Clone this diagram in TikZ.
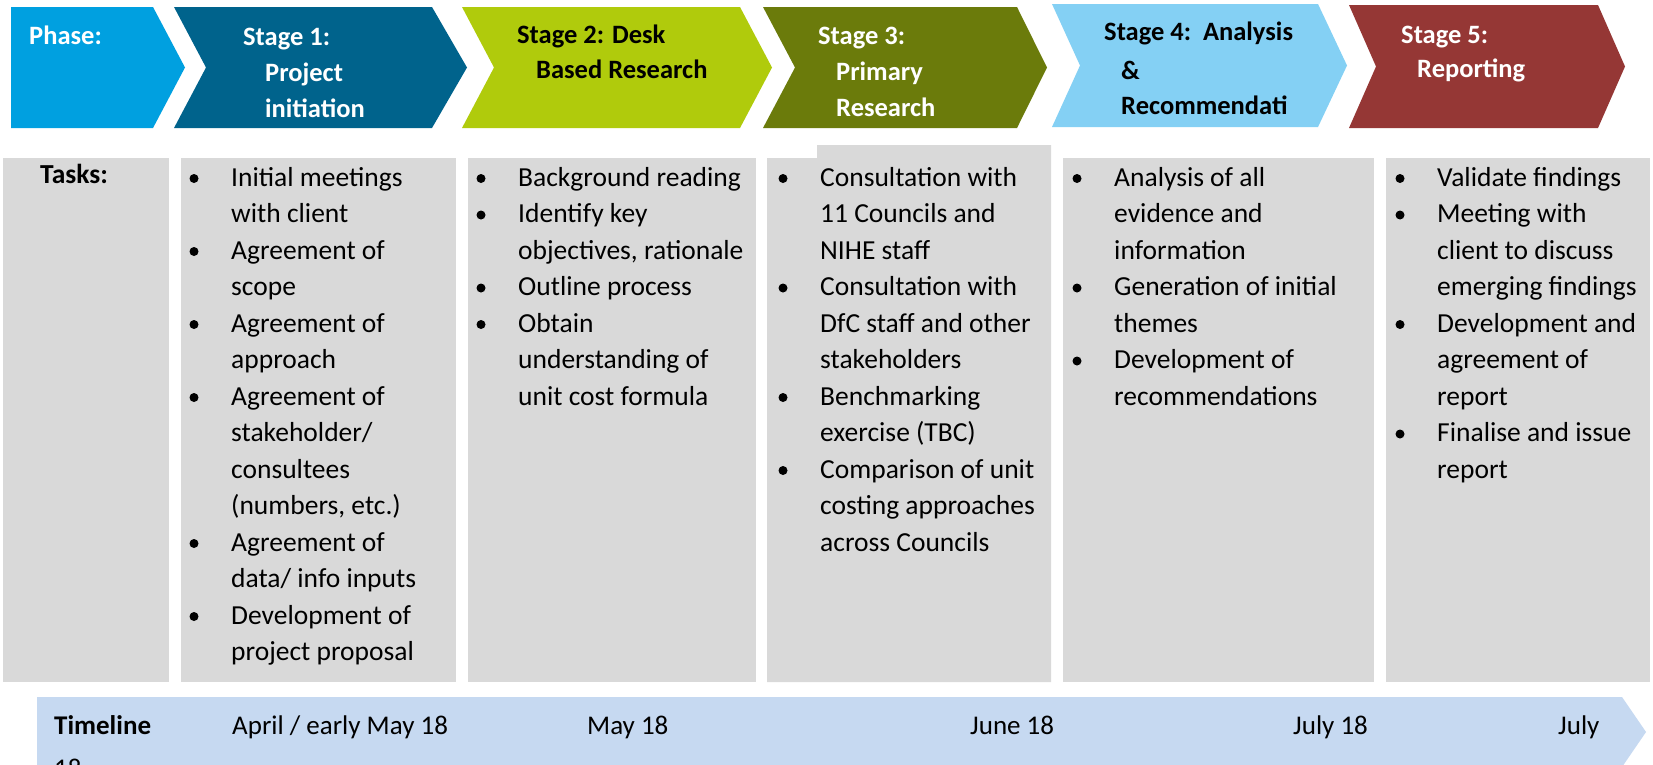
\documentclass[tikz,border=0pt]{standalone}
\usepackage{fontspec}
\setmainfont{Carlito}
\definecolor{cPhase}{HTML}{00A0E0}
\definecolor{cSa}{HTML}{00638C}
\definecolor{cSb}{HTML}{B0CB0C}
\definecolor{cSc}{HTML}{6B7B0B}
\definecolor{cSd}{HTML}{84D0F4}
\definecolor{cSe}{HTML}{953735}
\definecolor{cBox}{HTML}{D9D9D9}
\definecolor{cTime}{HTML}{C6D9F1}
\newcommand\hdrfont{\fontsize{26.5}{30}\selectfont\bfseries}
\newcommand\taskfont{\fontsize{27.5}{33}\selectfont}
\newcommand\datefont{\fontsize{27}{33}\selectfont}
\begin{document}
\begin{tikzpicture}[x=1pt,y=-1pt,
  hdr/.style={anchor=base west, inner sep=0pt, font=\hdrfont},
  task/.style={anchor=base west, inner sep=0pt, font=\taskfont},
  datelbl/.style={anchor=base west, inner sep=0pt, font=\datefont},
  bul/.style={circle, fill=black, inner sep=0pt, minimum size=9pt}]
\clip (0,0) rectangle (1653,764);
\fill[white] (0,0) rectangle (1653,764);
% chevrons
\fill[cPhase] (11,7) -- (153,7) -- (185,67.5) -- (153,128) -- (11,128) -- cycle;
\fill[cSa] (174,7) -- (432,7) -- (467,67.5) -- (432,128) -- (174,128) -- (206,67.5) -- cycle;
\fill[cSb] (462,7) -- (740,7) -- (772,67.5) -- (740,128) -- (462,128) -- (494,67.5) -- cycle;
\fill[cSc] (763,7) -- (1017,7) -- (1047,67.5) -- (1017,128) -- (763,128) -- (795,67.5) -- cycle;
\fill[cSd] (1052,4) -- (1318,4) -- (1347,65.5) -- (1318,127) -- (1052,127) -- (1080,65.5) -- cycle;
\fill[cSe] (1349,5) -- (1598,5) -- (1625,66.5) -- (1598,128) -- (1349,128) -- (1376,66.5) -- cycle;
% header texts
\node[hdr, text=white] (ph) at (29,44) {Phase:};
\node[hdr, text=white] (s1a) at (243,45) {Stage 1:};
\node[hdr, text=white] (s1b) at (265,81) {Project};
\node[hdr, text=white] (s1c) at (265,117) {initiation};
\node[hdr, text=black] (s2a) at (517,43.5) {Stage 2: Desk};
\node[hdr, text=black] (s2b) at (536,78) {Based Research};
\node[hdr, text=white] (s3a) at (818,44) {Stage 3:};
\node[hdr, text=white] (s3b) at (836,80) {Primary};
\node[hdr, text=white] (s3c) at (836,116) {Research};
\node[hdr, text=black] (s4a) at (1104,40) {Stage 4:\ \ Analysis};
\node[hdr, text=black] (s4b) at (1121,79) {\&};
\node[hdr, text=black] (s4c) at (1121,114) {Recommendati};
\node[hdr, text=white] (s5a) at (1401,43) {Stage 5:};
\node[hdr, text=white] (s5b) at (1417,77) {Reporting};
% task boxes
\fill[cBox] (3,158) rectangle (169,682);
\fill[cBox] (181,158) rectangle (456,682);
\fill[cBox] (468,158) rectangle (756,682);
\fill[cBox] (767,158) -- (817,158) -- (817,145) -- (1051,145) -- (1051,682) -- (767,682) -- cycle;
\fill[cBox] (1063,158) rectangle (1374,682);
\fill[cBox] (1386,158) rectangle (1650,682);
\node[task, font=\taskfont\bfseries] (tasks) at (40,183) {Tasks:};
% box 1
\node[bul] (b1a) at (194,178.5) {};
\node[task] (t1a) at (231,186) {Initial meetings};
\node[task] (t1b) at (231,222.5) {with client};
\node[bul] (b1b) at (194,251.5) {};
\node[task] (t1c) at (231,259) {Agreement of};
\node[task] (t1d) at (231,295.5) {scope};
\node[bul] (b1c) at (194,324.5) {};
\node[task] (t1e) at (231,332) {Agreement of};
\node[task] (t1f) at (231,368.5) {approach};
\node[bul] (b1d) at (194,397.5) {};
\node[task] (t1g) at (231,405) {Agreement of};
\node[task] (t1h) at (231,441.5) {stakeholder/};
\node[task] (t1i) at (231,478) {consultees};
\node[task] (t1j) at (231,514.5) {(numbers, etc.)};
\node[bul] (b1e) at (194,543.5) {};
\node[task] (t1k) at (231,551) {Agreement of};
\node[task] (t1l) at (231,587.5) {data/ info inputs};
\node[bul] (b1f) at (194,616.5) {};
\node[task] (t1m) at (231,624) {Development of};
\node[task] (t1n) at (231,660.5) {project proposal};
% box 2
\node[bul] (b2a) at (481,178.5) {};
\node[task] (t2a) at (518,186) {Background reading};
\node[bul] (b2b) at (481,215) {};
\node[task] (t2b) at (518,222.5) {Identify key};
\node[task] (t2c) at (518,259) {objectives, rationale};
\node[bul] (b2c) at (481,288) {};
\node[task] (t2d) at (518,295.5) {Outline process};
\node[bul] (b2d) at (481,324.5) {};
\node[task] (t2e) at (518,332) {Obtain};
\node[task] (t2f) at (518,368.5) {understanding of};
\node[task] (t2g) at (518,405) {unit cost formula};
% box 3
\node[bul] (b3a) at (783,178.5) {};
\node[task] (t3a) at (820,186) {Consultation with};
\node[task] (t3b) at (820,222.5) {11 Councils and};
\node[task] (t3c) at (820,259) {NIHE staff};
\node[bul] (b3b) at (783,288) {};
\node[task] (t3d) at (820,295.5) {Consultation with};
\node[task] (t3e) at (820,332) {DfC staff and other};
\node[task] (t3f) at (820,368.5) {stakeholders};
\node[bul] (b3c) at (783,397.5) {};
\node[task] (t3g) at (820,405) {Benchmarking};
\node[task] (t3h) at (820,441.5) {exercise (TBC)};
\node[bul] (b3d) at (783,470.5) {};
\node[task] (t3i) at (820,478) {Comparison of unit};
\node[task] (t3j) at (820,514.5) {costing approaches};
\node[task] (t3k) at (820,551) {across Councils};
% box 4
\node[bul] (b4a) at (1077,178.5) {};
\node[task] (t4a) at (1114,186) {Analysis of all};
\node[task] (t4b) at (1114,222.5) {evidence and};
\node[task] (t4c) at (1114,259) {information};
\node[bul] (b4b) at (1077,288) {};
\node[task] (t4d) at (1114,295.5) {Generation of initial};
\node[task] (t4e) at (1114,332) {themes};
\node[bul] (b4c) at (1077,361) {};
\node[task] (t4f) at (1114,368.5) {Development of};
\node[task] (t4g) at (1114,405) {recommendations};
% box 5
\node[bul] (b5a) at (1400,178.5) {};
\node[task] (t5a) at (1437,186) {Validate findings};
\node[bul] (b5b) at (1400,215) {};
\node[task] (t5b) at (1437,222.5) {Meeting with};
\node[task] (t5c) at (1437,259) {client to discuss};
\node[task] (t5d) at (1437,295.5) {emerging findings};
\node[bul] (b5c) at (1400,324.5) {};
\node[task] (t5e) at (1437,332) {Development and};
\node[task] (t5f) at (1437,368.5) {agreement of};
\node[task] (t5g) at (1437,405) {report};
\node[bul] (b5d) at (1400,434) {};
\node[task] (t5h) at (1437,441.5) {Finalise and issue};
\node[task] (t5i) at (1437,478) {report};
% timeline
\fill[cTime] (37,697) -- (1622,697) -- (1646,732) -- (1622,767) -- (37,767) -- cycle;
\node[datelbl, font=\datefont\bfseries] (tl) at (54,734) {Timeline};
\node[datelbl] (tl18) at (54,777) {18};
\node[datelbl] (d1) at (232,734) {April / early May 18};
\node[datelbl] (d2) at (587,734) {May 18};
\node[datelbl] (d3) at (970,734) {June 18};
\node[datelbl] (d4) at (1293,734) {July 18};
\node[datelbl] (d5) at (1558,734) {July};
\end{tikzpicture}
\end{document}
